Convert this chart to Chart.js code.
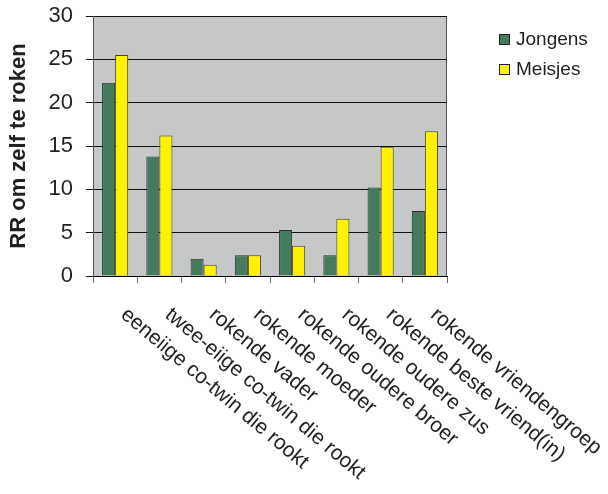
<!DOCTYPE html>
<html>
<head>
<meta charset="utf-8">
<script src="https://cdn.jsdelivr.net/npm/chart.js@4.4.1/dist/chart.umd.min.js"></script>
<style>
  html, body { margin: 0; padding: 0; background: #fff; }
  #wrap { width: 608px; height: 494px; }
</style>
</head>
<body>
<div id="wrap"><canvas id="rr_chart" width="608" height="494"></canvas></div>
<script>
var categories = [
    "eeneiige co-twin die rookt",
    "twee-eiige co-twin die rookt",
    "rokende vader",
    "rokende moeder",
    "rokende oudere broer",
    "rokende oudere zus",
    "rokende beste vriend(in)",
    "rokende vriendengroep"
];
var jongens = [22.3, 13.8, 2.0, 2.4, 5.3, 2.4, 10.2, 7.5];
var meisjes = [25.5, 16.2, 1.3, 2.4, 3.5, 6.6, 14.9, 16.7];
var series_names = ["Jongens", "Meisjes"];
var y_ticks = [0, 5, 10, 15, 20, 25, 30];

var font_family = "'Liberation Sans', Arial, sans-serif";
var text_color = "#231f20";

// grey plot background
var plot_bg = {
    id: "plot_bg",
    beforeDraw: (chart) => {
        var ctx = chart.ctx;
        var a = chart.chartArea;
        ctx.save();
        ctx.fillStyle = "#c6c7c9";
        ctx.fillRect(a.left, a.top, a.right - a.left, a.bottom - a.top);
        ctx.strokeStyle = "#555";
        ctx.lineWidth = 1;
        ctx.strokeRect(a.left + 0.5, a.top + 0.5, a.right - a.left - 1, a.bottom - a.top);
        ctx.restore();
    }
};

// slanted category labels, running down to the right
var slanted_labels = {
    id: "slanted_labels",
    afterDraw: (chart) => {
        var ctx = chart.ctx;
        var x_scale = chart.scales.x;
        ctx.save();
        ctx.fillStyle = text_color;
        ctx.font = "21px " + font_family;
        ctx.textAlign = "left";
        ctx.textBaseline = "top";
        chart.data.labels.forEach((label, i) => {
            var x = x_scale.getPixelForValue(i) + 15;
            var y = x_scale.top + 28;
            ctx.save();
            ctx.translate(x, y);
            ctx.rotate(40 * Math.PI / 180);
            ctx.fillText(label, 0, 0);
            ctx.restore();
        });
        ctx.restore();
    }
};

// legend on the right
var side_legend = {
    id: "side_legend",
    afterDraw: (chart) => {
        var ctx = chart.ctx;
        ctx.save();
        ctx.font = "19px " + font_family;
        ctx.textBaseline = "middle";
        ctx.textAlign = "left";
        chart.data.datasets.forEach((ds, i) => {
            var cy = 39 + i * 30;
            ctx.fillStyle = ds.backgroundColor;
            ctx.fillRect(499, cy - 5, 11, 11);
            ctx.strokeStyle = "#222";
            ctx.lineWidth = 1;
            ctx.strokeRect(499.5, cy - 4.5, 10, 10);
            ctx.fillStyle = text_color;
            ctx.fillText(ds.label, 516, cy + 1);
        });
        ctx.restore();
    }
};

var chart_data = {
    labels: categories,
    datasets: [{
        label: series_names[0],
        data: jongens,
        backgroundColor: "#467a5c",
        borderColor: "#2b3530",
        borderWidth: 1,
        categoryPercentage: 0.59,
        barPercentage: 1.0
    }, {
        label: series_names[1],
        data: meisjes,
        backgroundColor: "#fff200",
        borderColor: "#4a4620",
        borderWidth: 1,
        categoryPercentage: 0.59,
        barPercentage: 1.0
    }]
};

var options = {
    responsive: false,
    animation: false,
    layout: { padding: { left: 0, top: 16, right: 161, bottom: 0 } },
    plugins: {
        legend: { display: false },
        tooltip: { enabled: false }
    },
    scales: {
        x: {
            ticks: { display: false },
            grid: {
                offset: true,
                drawOnChartArea: false,
                drawTicks: true,
                tickLength: 7,
                color: "#666"
            },
            border: { display: true, color: "#000", width: 1 },
            afterFit: (s) => { s.height = 494 - 276; }
        },
        y: {
            min: 0,
            max: 30,
            afterBuildTicks: (s) => { s.ticks = y_ticks.map(v => ({ value: v })); },
            ticks: {
                color: text_color,
                padding: 13,
                font: { family: font_family, size: 22 }
            },
            grid: {
                color: "#111",
                lineWidth: 1,
                drawTicks: true,
                tickLength: 7
            },
            border: { display: true, color: "#555", width: 1 },
            title: {
                display: true,
                text: "RR om zelf te roken",
                color: text_color,
                padding: { top: 6, bottom: 0 },
                font: { family: font_family, size: 22, weight: "bold" }
            },
            afterFit: (s) => {
                s.width = 93;
                s.paddingTop = 0;
                s.paddingBottom = 0;
            }
        }
    }
};

var chart = new Chart(document.getElementById("rr_chart"), {
    type: "bar",
    data: chart_data,
    options: options,
    plugins: [plot_bg, slanted_labels, side_legend]
});
</script>
</body>
</html>
